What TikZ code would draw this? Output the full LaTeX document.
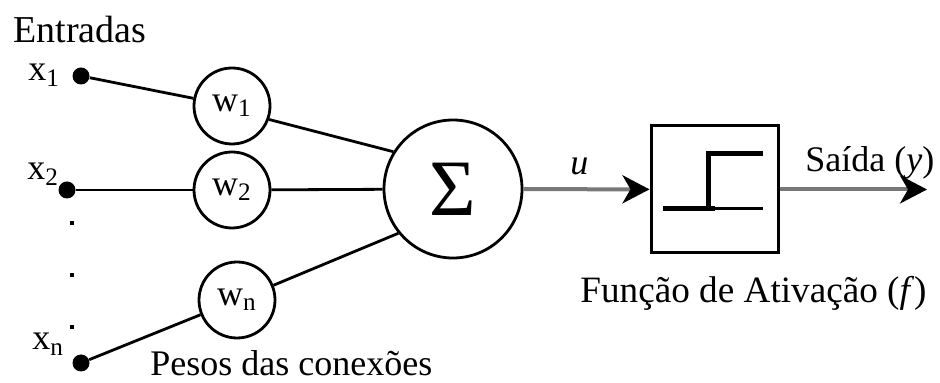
\documentclass[tikz,border=0pt]{standalone}
\usepackage{fontspec}
\setmainfont{Liberation Serif}
\usetikzlibrary{arrows.meta}
\definecolor{flowgray}{RGB}{120,120,120}
\begin{document}
\begin{tikzpicture}[x=0.5pt,y=-0.5pt,
  conn/.style={line width=1.4pt,draw=black},
  wcirc/.style={circle,draw,line width=1.4pt,minimum size=38pt,inner sep=0pt,font=\fontsize{18}{18}\selectfont},
  sumcirc/.style={circle,draw,line width=1.4pt,minimum size=69pt,inner sep=0pt,font=\fontsize{40}{40}\selectfont},
  dotnode/.style={circle,fill=black,minimum size=8.5pt,inner sep=0pt},
  sdot/.style={rectangle,fill=black,minimum size=2pt,inner sep=0pt},
  lbl/.style={font=\fontsize{18}{20}\selectfont,inner sep=0pt,anchor=base west},
  biglbl/.style={font=\fontsize{19}{22}\selectfont,inner sep=0pt,anchor=base west},
  actbox/.style={rectangle,draw,line width=1.5pt,minimum size=63.5pt,inner sep=0pt},
  flow/.style={line width=2pt,draw=flowgray,-{Stealth[black,length=13.5pt,width=14pt,inset=4pt]}},
  stepline/.style={line width=2.5pt,draw=black}
]
\useasboundingbox (0,0) rectangle (940,383);

% labels
\node[biglbl] (entr) at (13,43) {Entradas};
\node[lbl] (lx1) at (28,81) {x\textsubscript{1}};
\node[lbl] (lx2) at (27,180) {x\textsubscript{2}};
\node[lbl] (lxn) at (32,350) {x\textsubscript{n}};

% input dots
\node[dotnode] (d1) at (81,76) {};
\node[dotnode] (d2) at (67,190) {};
\node[dotnode] (dn) at (81,363) {};
\node[sdot] (e1) at (72,223) {};
\node[sdot] (e2) at (72,275) {};
\node[sdot] (e3) at (72,327) {};

% weights
\node[wcirc] (w1) at (232,106) {w\textsubscript{1}};
\node[wcirc] (w2) at (232,190) {w\textsubscript{2}};
\node[wcirc] (wn) at (237,300) {w\textsubscript{n}};

% sum
\node[sumcirc] (sig) at (453,189) {Σ};

% activation box
\node[actbox] (box) at (714.5,189.5) {};
\coordinate (out) at (927,189.5);

% connectors
\draw[conn] (d1) -- (w1);
\draw[conn] (d2) -- (w2);
\draw[conn] (dn) -- (wn);
\draw[conn] (w1.-20) -- (sig.148);
\draw[conn] (w2) -- (sig);
\draw[conn] (wn.22) -- (sig.219);
\draw[flow] (sig) -- (box);
\draw[flow] (box) -- (out);

% step function
\draw[stepline] (663,209) -- (715,209);
\draw[line width=1.5pt] (715,209) -- (763,209);
\draw[stepline] (708,210.2) -- (708,154) -- (763,154);

% texts
\node[lbl] (u) at (570,175) {\itshape u};
\node[lbl] (said) at (805,172) {Saída (\textit{y})};
\node[biglbl,font=\fontsize{18.6}{22}\selectfont] (func) at (580,303) {Função de Ativação (\textit{f})};
\node[lbl] (pesos) at (150,376) {Pesos das conexões};
\end{tikzpicture}
\end{document}
